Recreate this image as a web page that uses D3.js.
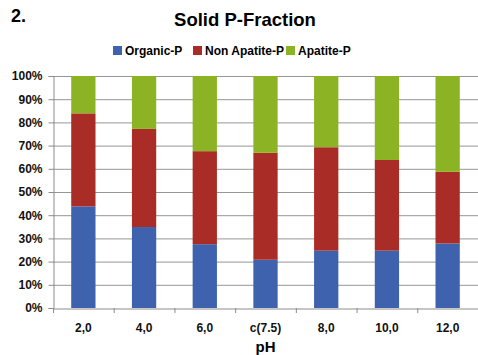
<!DOCTYPE html>
<html>
<head>
<meta charset="utf-8">
<script src="https://cdn.jsdelivr.net/npm/d3@7"></script>
<style>
  body { margin: 0; background: #fff; }
  text { font-family: "Liberation Sans", Arial, sans-serif; font-weight: bold; }
</style>
</head>
<body>
<div id="chart"></div>
<script>
// Data (percent of total)
const categories = ["2,0", "4,0", "6,0", "c(7.5)", "8,0", "10,0", "12,0"];
const organicP = [43.8, 34.9, 27.5, 20.8, 24.7, 24.7, 27.8];
const nonApatiteP = [40.1, 42.3, 40.1, 46.1, 44.6, 39.1, 30.9];
const apatiteP = [16.1, 22.8, 32.4, 33.1, 30.7, 36.2, 41.3];
const seriesNames = ["Organic-P", "Non Apatite-P", "Apatite-P"];
const yTicks = [0, 10, 20, 30, 40, 50, 60, 70, 80, 90, 100];

const colors = ["#3e62ae", "#a92d26", "#8cb324"];

// Format container
const width = 478, height = 355;
const margin = { top: 76, right: 0, bottom: 47, left: 53 };

const svg = d3.select("#chart").append("svg")
    .attr("width", width)
    .attr("height", height);

const rows = categories.map((c, i) => ({
    cat: c,
    "Organic-P": organicP[i],
    "Non Apatite-P": nonApatiteP[i],
    "Apatite-P": apatiteP[i]
}));

const stacked = d3.stack().keys(seriesNames)
    .offset(d3.stackOffsetExpand)(rows);

const x = d3.scaleBand().domain(categories)
    .range([margin.left, width - margin.right])
    .paddingInner(0.6).paddingOuter(0.3);

const xb = d3.scaleBand().domain(categories)
    .range([margin.left, width - margin.right]);

const y = d3.scaleLinear().domain([0, 1])
    .range([height - margin.bottom, margin.top]);

// Gridlines
svg.append("g")
    .selectAll("line")
    .data(yTicks.slice(1))
    .join("line")
    .attr("x1", margin.left)
    .attr("x2", width - margin.right)
    .attr("y1", d => y(d / 100) + 0.5)
    .attr("y2", d => y(d / 100) + 0.5)
    .attr("stroke", "#969696")
    .attr("stroke-width", 1);

// Bars
svg.append("g")
    .selectAll("g")
    .data(stacked)
    .join("g")
    .attr("fill", (d, i) => colors[i])
    .selectAll("rect")
    .data(d => d)
    .join("rect")
    .attr("x", d => x(d.data.cat))
    .attr("y", d => y(d[1]))
    .attr("width", x.bandwidth())
    .attr("height", d => y(d[0]) - y(d[1]));

// Y axis
const yAxis = svg.append("g")
    .attr("transform", `translate(${margin.left + 0.5},0)`)
    .call(d3.axisLeft(y).tickValues(yTicks.map(d => d / 100))
        .tickFormat(d => Math.round(d * 100) + "%").tickSize(5).tickPadding(6));
yAxis.select(".domain").attr("stroke", "#8c8c8c");
yAxis.selectAll(".tick line").attr("stroke", "#8c8c8c");
yAxis.selectAll(".tick text").attr("font-size", 12).attr("fill", "#111");

// X axis
const xAxis = svg.append("g")
    .attr("transform", `translate(0,${height - margin.bottom + 0.5})`)
    .call(d3.axisBottom(xb).tickSize(0).tickPadding(15));
xAxis.select(".domain").attr("stroke", "#8c8c8c");
xAxis.selectAll(".tick text").attr("font-size", 12).attr("fill", "#111");

// Tick marks between categories
svg.append("g")
    .selectAll("line")
    .data(categories)
    .join("line")
    .attr("x1", d => xb(d) + 0.5)
    .attr("x2", d => xb(d) + 0.5)
    .attr("y1", height - margin.bottom)
    .attr("y2", height - margin.bottom + 5)
    .attr("stroke", "#8c8c8c");

// Titles
svg.append("text")
    .attr("x", 11).attr("y", 22)
    .attr("font-size", 18)
    .text("2.");

svg.append("text")
    .attr("x", 245).attr("y", 26)
    .attr("text-anchor", "middle")
    .attr("font-size", 18.5)
    .text("Solid P-Fraction");

svg.append("text")
    .attr("x", (margin.left + width - margin.right) / 2)
    .attr("y", 352)
    .attr("text-anchor", "middle")
    .attr("font-size", 15)
    .text("pH");

// Legend
const legendX = [113, 193, 286];
const legend = svg.append("g")
    .selectAll("g")
    .data(seriesNames)
    .join("g")
    .attr("transform", (d, i) => `translate(${legendX[i]},46)`);
legend.append("rect")
    .attr("width", 9).attr("height", 9)
    .attr("fill", (d, i) => colors[i]);
legend.append("text")
    .attr("x", 12).attr("y", 9)
    .attr("font-size", 12)
    .text(d => d);
</script>
</body>
</html>
